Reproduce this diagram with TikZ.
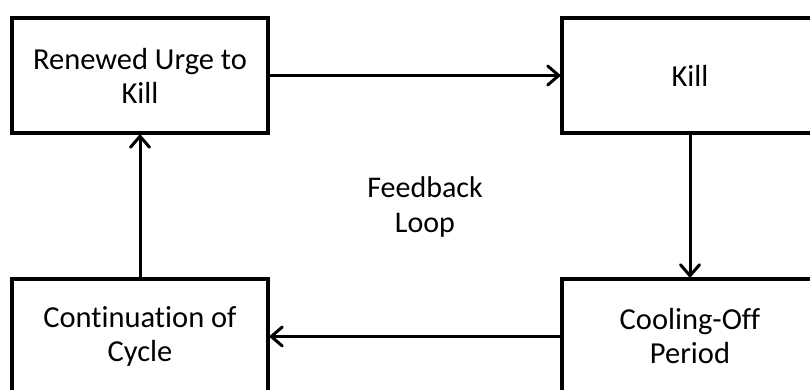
\documentclass[tikz,border=0pt]{standalone}
\usepackage{fontspec}
\setmainfont{Carlito}[Ligatures=NoCommon]
\usetikzlibrary{arrows.meta}

\begin{document}
\begin{tikzpicture}[x=1pt,y=1pt,
    block/.style={draw,line width=3.5pt,minimum width=256pt,minimum height=115pt,
        align=center,font=\fontsize{30.5}{34}\selectfont,inner sep=0pt},
    flow/.style={line width=3pt,-{Straight Barb[length=11pt,width=19pt,line cap=round,line join=round]}}]
        \clip (0,0) rectangle (810,390);
        \node[block] (urge) at (140,314.5) {Renewed Urge to\\Kill};
        \node[block] (kill) at (690,314.5) {Kill};
        \node[block] (cool) at (690,53.5) {Cooling-Off\\Period};
        \node[block] (cont) at (140,53.5) {Continuation of\\Cycle};
        \node[align=center,font=\fontsize{30}{35}\selectfont] (loop) at (425,183) {Feedback\\Loop};
        \draw [flow] (urge)--(kill);
        \draw [flow] (kill)--(cool);
        \draw [flow] (cool)--(cont);
        \draw [flow] (cont)--(urge);
    \end{tikzpicture}
\end{document}
